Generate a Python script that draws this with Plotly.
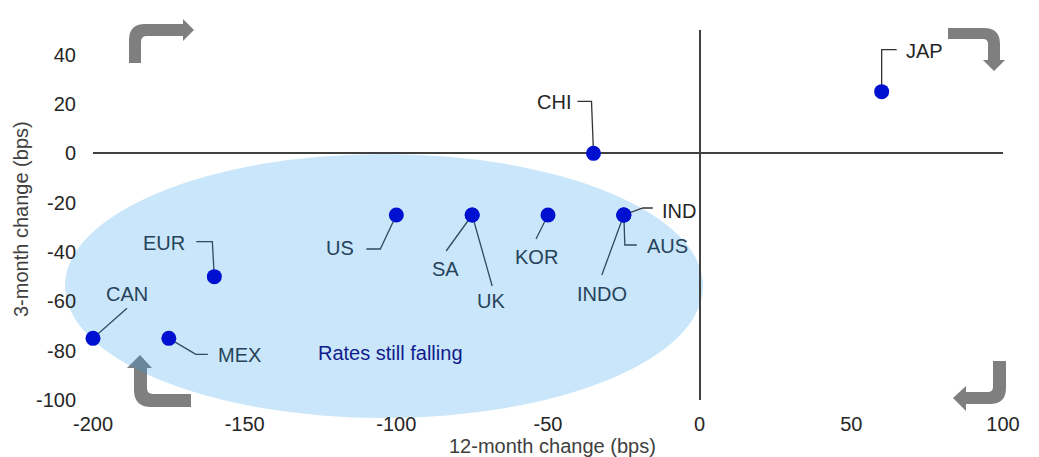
import plotly.graph_objects as go

# ---------------- data ----------------
countries = ["JAP", "CHI", "US", "SA", "UK", "KOR", "IND", "AUS", "INDO", "EUR", "CAN", "MEX"]
chg_12m = [60, -35, -100, -75, -75, -50, -25, -25, -25, -160, -200, -175]
chg_3m = [25, 0, -25, -25, -25, -25, -25, -25, -25, -50, -75, -75]
x_ticks = [-200, -150, -100, -50, 0, 50, 100]
y_ticks = [-100, -80, -60, -40, -20, 0, 20, 40]
x_title = "12-month change (bps)"
y_title = "3-month change (bps)"
zone_label = "Rates still falling"

# ---------------- layout geometry ----------------
W, H = 1039, 457
ML, MR, MT, MB = 93, 36, 30, 57
PW, PH = W - ML - MR, H - MT - MB
X_RANGE = [-200, 100]
Y_RANGE = [-100, 50]
SX = PW / (X_RANGE[1] - X_RANGE[0])   # px per unit
SY = PH / (Y_RANGE[1] - Y_RANGE[0])

FONT = "Liberation Sans, Arial, sans-serif"
TXT = "#262626"
TXT_IN = "#26435A"     # text seen through the ellipse
LEAD = "#333333"
LEAD_IN = "#2E4A5E"
DOT = "#0010D0"
FS = 20

# label styling: (dx, dy) pixel offset of label, anchor, leader vertices (px offsets), inside ellipse
label_style = {
    "JAP":  dict(off=(22, -41), anchor="left",   lead=[(0, 0), (0, -42), (15, -42)], inside=False),
    "CHI":  dict(off=(-21, -51), anchor="right", lead=[(0, 0), (-2, -52), (-16, -52)], inside=False),
    "US":   dict(off=(-40, 33), anchor="right",  lead=[(0, 0), (-16, 34), (-30, 34)], inside=True),
    "SA":   dict(off=(-27, 54), anchor="center", lead=[(0, 0), (-26, 36)], inside=True),
    "UK":   dict(off=(19, 86), anchor="center",  lead=[(0, 0), (20, 71)], inside=True),
    "KOR":  dict(off=(-12, 42), anchor="center", lead=[(0, 0), (-12, 24)], inside=True),
    "IND":  dict(off=(36, -4), anchor="left",    lead=[(0, 0), (19, -7), (29, -7)], inside=False),
    "AUS":  dict(off=(21, 31), anchor="left",    lead=[(0, 0), (1, 30), (13, 30)], inside=True),
    "INDO": dict(off=(-22, 79), anchor="center", lead=[(0, 0), (-22, 60)], inside=True),
    "EUR":  dict(off=(-27, -34), anchor="right", lead=[(0, 0), (-2, -35), (-18, -35)], inside=True),
    "CAN":  dict(off=(34, -44), anchor="center", lead=[(0, 0), (34, -30)], inside=True),
    "MEX":  dict(off=(47, 17), anchor="left",    lead=[(0, 0), (27, 16), (39, 16)], inside=True),
}


def P(px, py):
    """pixel -> paper coordinate string"""
    return f"{(px - ML) / PW:.5f},{(MT + PH - py) / PH:.5f}"


def arrow_path(cmds):
    out = []
    for c in cmds:
        op = c[0]
        if op == "Z":
            out.append("Z")
        elif op == "Q":
            out.append(f"Q {P(*c[1])} {P(*c[2])}")
        else:
            out.append(f"{op} {P(*c[1])}")
    return " ".join(out)


ARROW = "#7F7F7F"
arrows = [
    # top-left (up then right)
    [("M", (129, 63)), ("L", (129, 40)), ("Q", (129, 24), (145, 24)), ("L", (183, 24)), ("L", (183, 19)),
     ("L", (194, 30)), ("L", (183, 41)), ("L", (183, 36)), ("L", (147, 36)), ("Q", (141, 36), (141, 42)),
     ("L", (141, 63)), ("Z",)],
    # top-right (right then down)
    [("M", (948, 28)), ("L", (984, 28)), ("Q", (1000, 28), (1000, 44)), ("L", (1000, 60)), ("L", (1005, 60)),
     ("L", (994, 71)), ("L", (983, 60)), ("L", (988, 60)), ("L", (988, 44)), ("Q", (988, 39), (983, 39)),
     ("L", (948, 39)), ("Z",)],
    # bottom-right (down then left)
    [("M", (993, 361)), ("L", (1006, 361)), ("L", (1006, 388)), ("Q", (1006, 404), (990, 404)),
     ("L", (966, 404)), ("L", (966, 411)), ("L", (953, 398)), ("L", (966, 386)), ("L", (966, 392)),
     ("L", (988, 392)), ("Q", (993, 392), (993, 387)), ("Z",)],
    # bottom-left (left then up)
    [("M", (191, 394)), ("L", (153, 394)), ("Q", (147, 394), (147, 388)), ("L", (147, 368)), ("L", (152, 368)),
     ("L", (140, 355)), ("L", (127, 368)), ("L", (134, 368)), ("L", (134, 390)), ("Q", (134, 407), (151, 407)),
     ("L", (191, 407)), ("Z",)],
]

shapes = []
for a in arrows:
    shapes.append(dict(type="path", xref="paper", yref="paper", path=arrow_path(a),
                       fillcolor=ARROW, line=dict(width=0), layer="below"))

# ellipse ("rates still falling" zone)
shapes.append(dict(type="circle", xref="paper", yref="paper",
                   x0=(65 - ML) / PW, x1=(703 - ML) / PW,
                   y0=(MT + PH - 418) / PH, y1=(MT + PH - 154) / PH,
                   fillcolor="rgba(39,155,235,0.25)", line=dict(width=0), layer="below"))

annotations = []
for name, xv, yv in zip(countries, chg_12m, chg_3m):
    st = label_style[name]
    pts = [(xv + dx / SX, yv - dy / SY) for dx, dy in st["lead"]]
    path = "M " + " L ".join(f"{px:.4f},{py:.4f}" for px, py in pts)
    shapes.append(dict(type="path", xref="x", yref="y", path=path,
                       line=dict(color=LEAD_IN if st["inside"] else LEAD, width=1.3), layer="below"))
    annotations.append(dict(x=xv, y=yv, xref="x", yref="y", text=name, showarrow=False,
                            xanchor=st["anchor"], yanchor="middle",
                            xshift=st["off"][0], yshift=-st["off"][1],
                            font=dict(family=FONT, size=FS, color=TXT_IN if st["inside"] else TXT)))

annotations.append(dict(x=(390 - ML) / PW, y=(MT + PH - 353) / PH, xref="paper", yref="paper",
                        text=zone_label, showarrow=False, xanchor="center", yanchor="middle",
                        font=dict(family=FONT, size=FS, color="#101C8C")))
annotations.append(dict(x=(552 - ML) / PW, y=(MT + PH - 446) / PH, xref="paper", yref="paper",
                        text=x_title, showarrow=False, xanchor="center", yanchor="middle",
                        font=dict(family=FONT, size=FS, color="#404040")))
annotations.append(dict(x=(21 - ML) / PW, y=(MT + PH - 219) / PH, xref="paper", yref="paper",
                        text=y_title, showarrow=False, textangle=-90, xanchor="center", yanchor="middle",
                        font=dict(family=FONT, size=FS, color="#404040")))

fig = go.Figure()
fig.add_trace(go.Scatter(x=chg_12m, y=chg_3m, mode="markers",
                         marker=dict(color=DOT, size=15, line=dict(width=0)),
                         text=countries, hoverinfo="text+x+y", cliponaxis=False))

fig.update_layout(
    width=W, height=H,
    margin=dict(l=ML, r=MR, t=MT, b=MB, pad=0),
    paper_bgcolor="white", plot_bgcolor="rgba(0,0,0,0)",
    showlegend=False,
    shapes=shapes, annotations=annotations,
    font=dict(family=FONT, size=FS, color=TXT),
)
fig.update_xaxes(range=X_RANGE, tickvals=x_ticks, ticktext=[str(v) for v in x_ticks],
                 showgrid=False, showline=False, ticks="", zeroline=True, zerolinecolor="#404040",
                 zerolinewidth=1.5, tickfont=dict(family=FONT, size=FS, color=TXT), ticklabelstandoff=10)
fig.update_yaxes(range=Y_RANGE, tickvals=y_ticks, ticktext=[str(v) for v in y_ticks],
                 showgrid=False, showline=False, ticks="", zeroline=True, zerolinecolor="#404040",
                 zerolinewidth=1.5, tickfont=dict(family=FONT, size=FS, color=TXT), ticklabelstandoff=16)

fig.write_html("out.html")
